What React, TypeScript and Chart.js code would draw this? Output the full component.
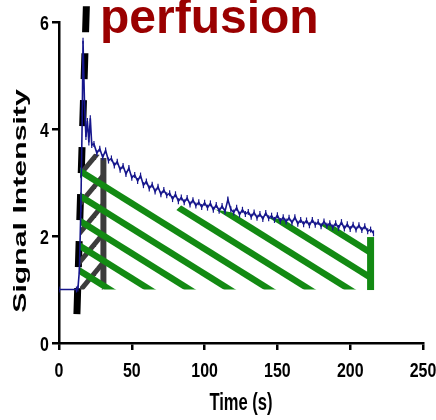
import { useEffect, useRef } from "react";
import { Chart, registerables } from "chart.js";

Chart.register(...registerables);

// ---- data ----
const timeS = [
  0, 12, 13, 14, 15, 16, 16.5, 17.5, 18.5, 19.5, 20.5, 21.5, 22.5,
  24, 26, 28, 30, 32, 34, 36, 38, 40, 42, 44, 46, 48, 50, 52, 54, 56, 58,
  60, 62, 64, 66, 68, 70, 72, 74, 76, 78, 80, 82, 84, 86, 88, 90, 92, 94,
  96, 98, 100, 102, 104, 106, 108, 110, 112, 114, 116, 118, 120, 122, 124,
  126, 128, 130, 132, 134, 136, 138, 140, 142, 144, 146, 148, 150, 152, 154,
  156, 158, 160, 162, 164, 166, 168, 170, 172, 174, 176, 178, 180, 182, 184,
  186, 188, 190, 192, 194, 196, 198, 200, 202, 204, 206, 208, 210, 212, 214, 216,
];
const signal = [
  1.0, 1.0, 1.02, 1.35, 2.5, 4.3, 5.65, 4.5, 3.85, 4.15, 3.75, 4.2, 3.7,
  3.72, 3.55, 3.63, 3.47, 3.6, 3.41, 3.45, 3.32, 3.39, 3.24, 3.31, 3.16, 3.27, 3.09, 3.14, 3.03, 3.13, 2.95,
  3.02, 2.89, 2.96, 2.83, 2.92, 2.78, 2.86, 2.76, 2.8, 2.69, 2.78, 2.65, 2.72, 2.63, 2.71, 2.59, 2.67, 2.57,
  2.63, 2.54, 2.62, 2.53, 2.61, 2.49, 2.58, 2.47, 2.56, 2.46, 2.68, 2.5, 2.44, 2.53, 2.4,
  2.49, 2.41, 2.45, 2.36, 2.44, 2.34, 2.41, 2.32, 2.43, 2.33, 2.38, 2.3, 2.39, 2.28, 2.35,
  2.27, 2.34, 2.25, 2.35, 2.23, 2.3, 2.22, 2.29, 2.2, 2.3, 2.21, 2.26, 2.18, 2.27, 2.19,
  2.24, 2.16, 2.24, 2.15, 2.26, 2.14, 2.22, 2.13, 2.21, 2.12, 2.2, 2.11, 2.18, 2.09, 2.12, 2.05,
];

const dashTime = [12.3, 18.8];
const dashSignal = [0.54, 6.3];

const grayTopTime = [14.4, 30.5];
const grayTopSignal = [3.6, 3.5];
const grayBarTime = [30.5, 30.5];
const grayBarSignal = [1.05, 3.46];

const greenTopTime = [14.4, 48.6, 80.1, 84.9, 117.1, 151.4, 185.6, 214.4];
const greenTopSignal = [3.4, 2.93, 2.47, 2.6, 2.45, 2.32, 2.21, 2.02];
const greenBarTime = [214, 214];
const greenBarSignal = [0.99, 1.98];

const hatchBase = 1;

const xTicks = [0, 50, 100, 150, 200, 250];
const yTicks = [0, 2, 4, 6];
const titleText = "perfusion";
const xTitle = "Time (s)";
const yTitle = "Signal Intensity";

const FONT = '"Liberation Sans", Arial, Helvetica, sans-serif';
const GREEN = "#138a13";
const GRAY = "#3c3c3c";
const BLUE = "#16168c";

const pts = (xs: number[], ys: number[]) => xs.map((x, i) => ({ x, y: ys[i] }));

function makeGreenPattern(ctx: CanvasRenderingContext2D) {
  const c = document.createElement("canvas");
  c.width = 40;
  c.height = 25;
  const g = c.getContext("2d")!;
  g.strokeStyle = GREEN;
  g.lineWidth = 6.5;
  for (let k = -2; k <= 2; k++) {
    g.beginPath();
    g.moveTo(-10, 0.625 * -10 + 21 + 25 * k);
    g.lineTo(50, 0.625 * 50 + 21 + 25 * k);
    g.stroke();
  }
  return ctx.createPattern(c, "repeat")!;
}

function makeGrayPattern(ctx: CanvasRenderingContext2D) {
  const c = document.createElement("canvas");
  c.width = 24;
  c.height = 29;
  const g = c.getContext("2d")!;
  g.strokeStyle = GRAY;
  g.lineWidth = 5;
  const s = -29 / 24;
  for (let k = -2; k <= 3; k++) {
    g.beginPath();
    g.moveTo(-10, s * -10 + 10.3 + 29 * k);
    g.lineTo(34, s * 34 + 10.3 + 29 * k);
    g.stroke();
  }
  return ctx.createPattern(c, "repeat")!;
}

const textPlugin = {
  id: "customTexts",
  afterDraw(chart: any) {
    const ctx: CanvasRenderingContext2D = chart.ctx;
    const xs = chart.scales.x;
    const ys = chart.scales.y;
    const area = chart.chartArea;
    ctx.save();
    ctx.fillStyle = "#000";
    ctx.font = `bold 21px ${FONT}`;
    ctx.textBaseline = "alphabetic";
    // x tick labels
    ctx.textAlign = "center";
    for (const v of xTicks) {
      ctx.save();
      ctx.translate(xs.getPixelForValue(v), area.bottom + 34);
      ctx.scale(0.76, 1);
      ctx.fillText(String(v), 0, 0);
      ctx.restore();
    }
    // y tick labels
    ctx.textAlign = "right";
    for (const v of yTicks) {
      ctx.save();
      ctx.translate(area.left - 10, ys.getPixelForValue(v) + 7.5);
      ctx.scale(0.76, 1);
      ctx.fillText(String(v), 0, 0);
      ctx.restore();
    }
    // x title
    ctx.font = `bold 23px ${FONT}`;
    ctx.textAlign = "center";
    ctx.save();
    ctx.translate((area.left + area.right) / 2, 410);
    ctx.scale(0.72, 1);
    ctx.fillText(xTitle, 0, 0);
    ctx.restore();
    // y title
    ctx.font = `bold 18px ${FONT}`;
    ctx.save();
    ctx.translate(26, 201);
    ctx.rotate(-Math.PI / 2);
    ctx.scale(1.68, 1);
    ctx.fillText(yTitle, 0, 0);
    ctx.restore();
    // main title
    ctx.font = `bold 48px ${FONT}`;
    ctx.fillStyle = "#9a0000";
    ctx.textAlign = "left";
    ctx.fillText(titleText, 100, 33);
    ctx.restore();
  },
};

export default function App() {
  const ref = useRef<HTMLCanvasElement | null>(null);

  useEffect(() => {
    document.body.style.margin = "0";
    const canvas = ref.current!;
    const ctx = canvas.getContext("2d")!;
    const greenPat = makeGreenPattern(ctx);
    const grayPat = makeGrayPattern(ctx);

    const axisCommon = {
      type: "linear" as const,
      border: { display: true, color: "#000", width: 2.5 },
      grid: {
        display: true,
        drawOnChartArea: false,
        drawTicks: true,
        tickLength: 7,
        color: "#000",
        lineWidth: 2.5,
      },
      ticks: { display: false },
    };

    const chart = new Chart(canvas, {
      type: "line",
      data: {
        datasets: [
          {
            label: "signal",
            data: pts(timeS, signal),
            borderColor: BLUE,
            borderWidth: 1.6,
            pointStyle: "line",
            rotation: 90,
            pointRadius: 3,
            pointBorderWidth: 1.2,
            pointBorderColor: BLUE,
            tension: 0,
            fill: false,
            order: 0,
          },
          {
            label: "greenBar",
            data: pts(greenBarTime, greenBarSignal),
            borderColor: GREEN,
            borderWidth: 7,
            borderCapStyle: "butt",
            pointRadius: 0,
            fill: false,
            order: 1,
          },
          {
            label: "greenHatch",
            data: pts(greenTopTime, greenTopSignal),
            borderColor: "rgba(0,0,0,0)",
            borderWidth: 0,
            backgroundColor: greenPat,
            pointRadius: 0,
            fill: { value: hatchBase },
            order: 2,
          },
          {
            label: "grayBar",
            data: pts(grayBarTime, grayBarSignal),
            borderColor: GRAY,
            borderWidth: 6,
            borderCapStyle: "butt",
            pointRadius: 0,
            fill: false,
            order: 3,
          },
          {
            label: "grayHatch",
            data: pts(grayTopTime, grayTopSignal),
            borderColor: "rgba(0,0,0,0)",
            borderWidth: 0,
            backgroundColor: grayPat,
            pointRadius: 0,
            fill: { value: hatchBase },
            order: 4,
          },
          {
            label: "bolus",
            data: pts(dashTime, dashSignal),
            borderColor: "#000",
            borderWidth: 7,
            borderDash: [26, 21],
            borderCapStyle: "butt",
            pointRadius: 0,
            fill: false,
            clip: false,
            order: 5,
          },
        ] as any,
      },
      options: {
        animation: false,
        responsive: false,
        devicePixelRatio: 1,
        layout: { padding: { top: 22, right: 13, left: 0, bottom: 0 } },
        plugins: {
          legend: { display: false },
          tooltip: { enabled: false },
          title: { display: false },
        },
        scales: {
          x: {
            ...axisCommon,
            position: "bottom",
            min: 0,
            max: 250,
            ticks: { display: false, stepSize: 50 },
            afterFit: (s: any) => {
              s.height = 77;
            },
          },
          y: {
            ...axisCommon,
            position: "left",
            min: 0,
            max: 6,
            ticks: { display: false, stepSize: 2 },
            afterFit: (s: any) => {
              s.width = 59;
            },
          },
        },
      } as any,
      plugins: [textPlugin],
    });

    return () => chart.destroy();
  }, []);

  return (
    <canvas
      ref={ref}
      width={436}
      height={420}
      style={{ display: "block", width: 436, height: 420 }}
    />
  );
}
